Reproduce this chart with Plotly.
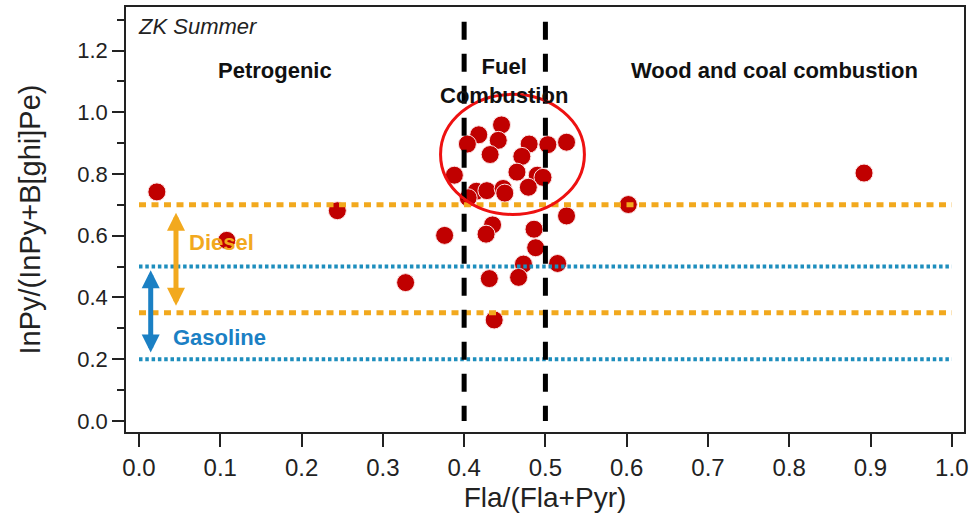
import plotly.graph_objects as go

# ---- data ----
fla_ratio = [0.022, 0.108, 0.244, 0.328, 0.376, 0.602, 0.892,
             0.446, 0.418, 0.404, 0.442, 0.432, 0.480, 0.503, 0.526, 0.471,
             0.388, 0.465, 0.490, 0.497, 0.479, 0.415, 0.428, 0.448, 0.450, 0.405,
             0.526, 0.435, 0.427, 0.486, 0.488, 0.473, 0.515, 0.431, 0.467, 0.437]
inpy_ratio = [0.742, 0.585, 0.681, 0.448, 0.601, 0.701, 0.803,
              0.959, 0.927, 0.897, 0.909, 0.863, 0.897, 0.895, 0.903, 0.857,
              0.796, 0.806, 0.796, 0.789, 0.757, 0.744, 0.746, 0.753, 0.738, 0.723,
              0.664, 0.635, 0.605, 0.621, 0.561, 0.508, 0.510, 0.461, 0.465, 0.327]

diesel_bounds = [0.35, 0.70]
gasoline_bounds = [0.20, 0.50]
fuel_bounds = [0.40, 0.50]
x_ticks = [0.0, 0.1, 0.2, 0.3, 0.4, 0.5, 0.6, 0.7, 0.8, 0.9, 1.0]
x_ticklabels = ["0.0", "0.1", "0.2", "0.3", "0.4", "0.5", "0.6", "0.7", "0.8", "0.9", "1.0"]
y_ticks = [0.0, 0.2, 0.4, 0.6, 0.8, 1.0, 1.2]
y_ticklabels = ["0.0", "0.2", "0.4", "0.6", "0.8", "1.0", "1.2"]

FONT = "Liberation Sans, Arial, sans-serif"
ORANGE = "#F2A91E"
BLUE_LINE = "#1E8EBD"
BLUE_TEXT = "#1B80C4"
RED = "#C00000"

fig = go.Figure()
fig.add_trace(go.Scatter(
    x=fla_ratio, y=inpy_ratio, mode="markers",
    marker=dict(size=18, color=RED, line=dict(color="#FBE3E3", width=1)),
    showlegend=False, hoverinfo="x+y"))

shapes = []
for yv in diesel_bounds:
    shapes.append(dict(type="line", xref="x", yref="y", x0=0, x1=1, y0=yv, y1=yv,
                       line=dict(color=ORANGE, width=5, dash="7px,5.5px")))
for yv in gasoline_bounds:
    shapes.append(dict(type="line", xref="x", yref="y", x0=0, x1=1, y0=yv, y1=yv,
                       line=dict(color=BLUE_LINE, width=4, dash="3.5px,2.8px")))
for xv in fuel_bounds:
    shapes.append(dict(type="line", xref="x", yref="y", x0=xv, x1=xv, y0=1.293, y1=0.0,
                       line=dict(color="black", width=5, dash="18px,14px")))
shapes.append(dict(type="circle", xref="x", yref="y", x0=0.371, x1=0.548, y0=0.669, y1=1.058,
                   line=dict(color="#EE1111", width=3)))

annotations = [
    dict(x=-0.004, y=1.279, text="<i>ZK Summer</i>", showarrow=False, xanchor="left", yanchor="middle",
         font=dict(family=FONT, size=22, color="#222")),
    dict(x=0.1673, y=1.135, text="<b>Petrogenic</b>", showarrow=False, xanchor="center", yanchor="middle",
         font=dict(family=FONT, size=22, color="#111")),
    dict(x=0.4495, y=1.102, text="<b>Fuel<br>Combustion</b>", showarrow=False, xanchor="center", yanchor="middle",
         font=dict(family=FONT, size=22, color="#111")),
    dict(x=0.7817, y=1.135, text="<b>Wood and coal combustion</b>", showarrow=False, xanchor="center", yanchor="middle",
         font=dict(family=FONT, size=22, color="#111")),
    dict(x=0.059, y=0.578, text="<b>Diesel</b>", showarrow=False, xanchor="left", yanchor="middle",
         font=dict(family=FONT, size=22, color=ORANGE)),
    dict(x=0.039, y=0.269, text="<b>Gasoline</b>", showarrow=False, xanchor="left", yanchor="middle",
         font=dict(family=FONT, size=22, color=BLUE_TEXT)),
    # double-headed arrows
    dict(x=0.0455, y=0.674, ax=0.0455, ay=0.368, xref="x", yref="y", axref="x", ayref="y",
         text="", showarrow=True, arrowside="end+start", arrowhead=2, startarrowhead=2,
         arrowsize=0.72, startarrowsize=0.72, arrowwidth=5, arrowcolor=ORANGE),
    dict(x=0.0144, y=0.488, ax=0.0144, ay=0.217, xref="x", yref="y", axref="x", ayref="y",
         text="", showarrow=True, arrowside="end+start", arrowhead=2, startarrowhead=2,
         arrowsize=0.72, startarrowsize=0.72, arrowwidth=5, arrowcolor=BLUE_TEXT),
]

fig.update_layout(
    width=974, height=522,
    margin=dict(l=126, r=10, t=5, b=90),
    paper_bgcolor="white", plot_bgcolor="white",
    shapes=shapes, annotations=annotations,
    font=dict(family=FONT, color="#222"),
    xaxis=dict(range=[-0.016, 1.015], tickvals=x_ticks, ticktext=x_ticklabels,
               ticks="outside", ticklen=13, tickwidth=1.5, tickcolor="#222",
               showline=True, linecolor="#222", linewidth=1.5, mirror=True,
               showgrid=False, zeroline=False,
               tickfont=dict(family=FONT, size=24, color="#222"),
               title=dict(text="Fla/(Fla+Pyr)", font=dict(family=FONT, size=28, color="#222"), standoff=8)),
    yaxis=dict(range=[-0.036, 1.341], tickvals=y_ticks, ticktext=y_ticklabels,
               ticks="outside", ticklen=12, tickwidth=1.5, tickcolor="#222",
               minor=dict(dtick=0.1, tick0=0, ticks="outside", ticklen=7, tickwidth=1.5, tickcolor="#222"),
               showline=True, linecolor="#222", linewidth=1.5, mirror=True,
               showgrid=False, zeroline=False,
               tickfont=dict(family=FONT, size=22, color="#222"),
               title=dict(text="InPy/(InPy+B[ghi]Pe)", font=dict(family=FONT, size=29, color="#222"), standoff=28)),
)

fig.write_html("out.html", config={"displayModeBar": False},
               post_script="document.body.style.margin='0';")
